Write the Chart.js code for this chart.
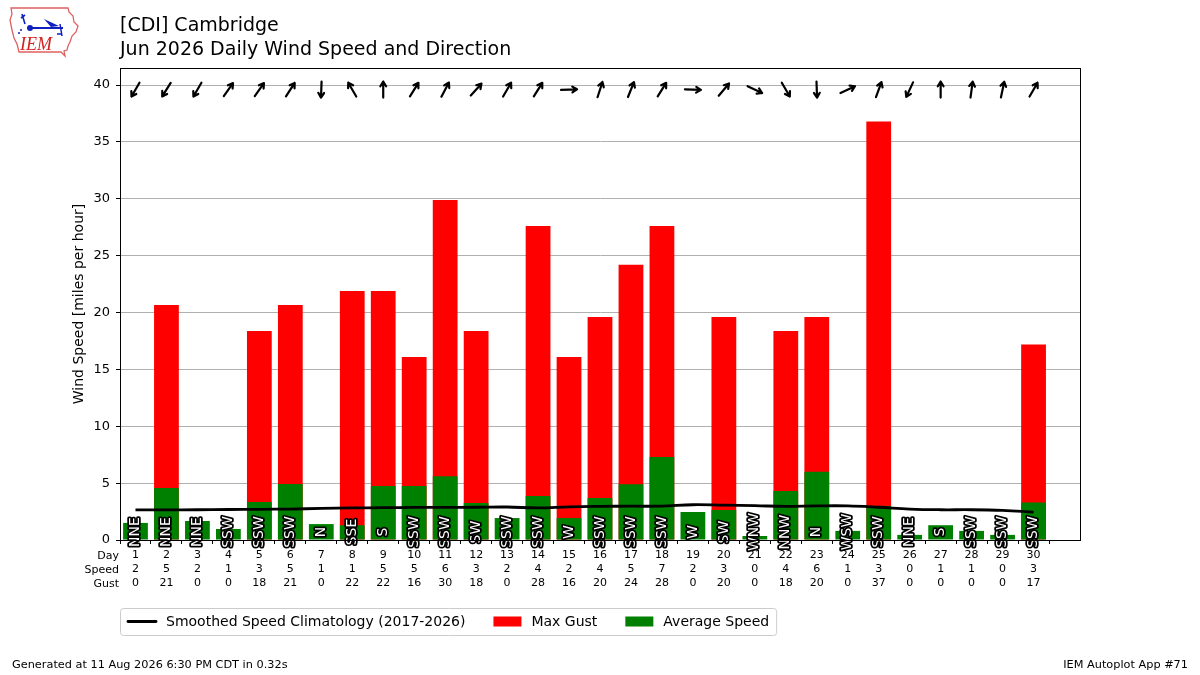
<!DOCTYPE html>
<html>
<head>
<meta charset="utf-8">
<title>[CDI] Cambridge - Jun 2026 Daily Wind</title>
<script src="https://cdn.jsdelivr.net/npm/chart.js@4.4.1/dist/chart.umd.min.js"></script>
<style>
	html, body { margin: 0; padding: 0; background: #fff; }
	#wrap { position: relative; width: 1200px; height: 675px; font-family: "DejaVu Sans", sans-serif; overflow: hidden; }
	#c { position: absolute; left: 0; top: 0; }
	.txt { position: absolute; color: #000; white-space: nowrap; line-height: 1; }
	#logo { position: absolute; left: 6px; top: 4px; }
</style>
</head>
<body>
<div id="wrap">
	<canvas id="c" width="1200" height="675"></canvas>
	<svg id="logo" width="76" height="56" viewBox="0 0 76 56">
		<path d="M5 4 L62 4 L63 8 L67 12 L68 18 L72 22 L70 28 L66 32 L64 38 L62 42 L61 46 L58 47 L59 52 L55 48 L13 48 L11 40 L8 34 L6 26 L4 16 L6 10 Z" fill="none" stroke="#e06060" stroke-width="1.3"/>
		<line x1="22" y1="24" x2="57" y2="24" stroke="#1020c0" stroke-width="2"/>
		<circle cx="24" cy="24" r="3" fill="#1020c0"/>
		<path d="M16 10 L19 20 M15 14 L19 11" stroke="#1020c0" stroke-width="1.6" fill="none"/>
		<path d="M38 15 L53 22 L45 23 Z" fill="#1020c0"/>
		<path d="M54 20 L56 32 M51 30 L56 30" stroke="#1020c0" stroke-width="1.5" fill="none"/>
		<circle cx="15" cy="26" r="1" fill="#1020c0"/><circle cx="13" cy="29" r="1" fill="#1020c0"/>
		<text x="14" y="46" font-family="'Liberation Serif', serif" font-style="italic" font-size="18" fill="#d42020">IEM</text>
	</svg>
	<div class="txt" style="left:120px;top:15px;font-size:19px;">[CDI] Cambridge</div>
	<div class="txt" style="left:120px;top:39px;font-size:19px;">Jun 2026 Daily Wind Speed and Direction</div>
	<div class="txt" style="left:12px;top:659px;font-size:11.3px;">Generated at 11 Aug 2026 6:30 PM CDT in 0.32s</div>
	<div class="txt" style="right:12px;top:659px;font-size:11.3px;">IEM Autoplot App #71</div>
</div>
<script>
'use strict';

// June 2026, Cambridge (CDI)
var days = [1,2,3,4,5,6,7,8,9,10,11,12,13,14,15,16,17,18,19,20,21,22,23,24,25,26,27,28,29,30];
var avgSpeed = [1.5,4.57,1.67,0.97,3.34,4.92,1.4,1.3,4.75,4.75,5.6,3.25,1.93,3.87,1.93,3.7,4.9,7.3,2.46,2.64,0.35,4.3,6.0,0.8,3.0,0.45,1.3,0.8,0.45,3.3];
var maxGust = [0,20.66,0,0,18.37,20.66,0,21.9,21.9,16.1,29.9,18.37,0,27.6,16.1,19.6,24.2,27.6,0,19.6,0,18.37,19.6,0,36.8,0,0,0,0,17.2];
var climo = [2.65,2.65,2.66,2.68,2.7,2.72,2.78,2.82,2.84,2.86,2.87,2.88,2.9,2.82,2.92,2.96,2.97,2.98,3.1,3.06,3.02,2.96,3.0,3.0,2.88,2.72,2.66,2.66,2.6,2.45];
var dirText = ['NNE','NNE','NNE','SSW','SSW','SSW','N','SSE','S','SSW','SSW','SW','SSW','SSW','W','SSW','SSW','SSW','W','SW','WNW','NNW','N','WSW','SSW','NNE','S','SSW','SSW','SSW'];
var dirDeg = [30,32,30,215,215,213,2,150,180,212,208,222,210,212,268,198,202,212,272,220,295,330,358,245,200,25,180,188,192,210];
var yTicks = [0,5,10,15,20,25,30,35,40];
var rowNames = ['Day','Speed','Gust'];

var FONT = '"DejaVu Sans", sans-serif';
var X_TICK_LEN = 4, X_PAD = 4, X_LINE_H = 14;

var overlay = {
	id: 'overlay',
	afterDatasetsDraw: function(chart) {
		var ctx = chart.ctx, xs = chart.scales.x, ys = chart.scales.y;
		// direction text inside the bars
		ctx.save();
		ctx.font = '14px ' + FONT;
		ctx.textAlign = 'center';
		ctx.textBaseline = 'middle';
		ctx.lineJoin = 'round';
		dirText.forEach(function(t, i) {
			var x = xs.getPixelForValue(i), y = ys.getPixelForValue(0.7);
			ctx.save();
			ctx.translate(x, y);
			ctx.rotate(-Math.PI / 2);
			ctx.strokeStyle = '#000';
			ctx.lineWidth = 3.5;
			ctx.strokeText(t, 0, 0);
			ctx.fillStyle = '#fff';
			ctx.fillText(t, 0, 0);
			ctx.restore();
		});
		ctx.restore();
	},
	afterDraw: function(chart) {
		var ctx = chart.ctx, a = chart.chartArea, xs = chart.scales.x, ys = chart.scales.y;
		ctx.save();
		// frame
		ctx.strokeStyle = '#000';
		ctx.lineWidth = 1;
		ctx.strokeRect(a.left + 0.5, a.top + 0.5, a.right - a.left, a.bottom - a.top);

		// arrows pointing where the wind blows to
		ctx.lineWidth = 2.2;
		ctx.lineCap = 'round';
		ctx.lineJoin = 'round';
		dirDeg.forEach(function(d, i) {
			var cx = xs.getPixelForValue(i), cy = ys.getPixelForValue(39.6);
			var b = (d + 180) * Math.PI / 180;
			var ux = Math.sin(b), uy = -Math.cos(b);
			var L = 8;
			var tx = cx + ux * L, ty = cy + uy * L;
			ctx.beginPath();
			ctx.moveTo(cx - ux * L, cy - uy * L);
			ctx.lineTo(tx, ty);
			var h = 5.5, s = 0.55;
			ctx.moveTo(tx - h * (ux * Math.cos(s) - uy * Math.sin(s)), ty - h * (uy * Math.cos(s) + ux * Math.sin(s)));
			ctx.lineTo(tx, ty);
			ctx.lineTo(tx - h * (ux * Math.cos(-s) - uy * Math.sin(-s)), ty - h * (uy * Math.cos(-s) + ux * Math.sin(-s)));
			ctx.strokeStyle = '#000';
			ctx.stroke();
		});

		// row names for the table under the axis
		ctx.font = '11px ' + FONT;
		ctx.fillStyle = '#000';
		ctx.textAlign = 'right';
		ctx.textBaseline = 'middle';
		rowNames.forEach(function(n, i) {
			ctx.fillText(n, a.left - 1, a.bottom + X_TICK_LEN + X_PAD + X_LINE_H * (i + 0.5) + 1);
		});

		// legend
		var ds = chart.data.datasets;
		ctx.font = '14px ' + FONT;
		var lx = a.left, ly = a.bottom + 68, lh = 27, handle = 28;
		var x = lx + 8, widths = ds.map(function(d) { return ctx.measureText(d.label).width; });
		var total = 8;
		widths.forEach(function(w, i) { total += handle + 10 + w + (i < widths.length - 1 ? 28 : 7); });
		ctx.strokeStyle = '#cccccc';
		ctx.lineWidth = 1;
		ctx.beginPath();
		if (ctx.roundRect) ctx.roundRect(lx + 0.5, ly + 0.5, total, lh, 3); else ctx.rect(lx + 0.5, ly + 0.5, total, lh);
		ctx.stroke();
		var my = ly + lh / 2;
		ctx.textAlign = 'left';
		ds.forEach(function(d, i) {
			if (d.type === 'line') {
				ctx.strokeStyle = d.borderColor;
				ctx.lineWidth = d.borderWidth;
				ctx.beginPath();
				ctx.moveTo(x, my);
				ctx.lineTo(x + handle, my);
				ctx.stroke();
			} else {
				ctx.fillStyle = d.backgroundColor;
				ctx.fillRect(x, my - 5, handle, 10);
			}
			ctx.fillStyle = '#000';
			ctx.fillText(d.label, x + handle + 10, my + 1);
			x += handle + 10 + widths[i] + 28;
		});
		ctx.restore();
	}
};

var labels = days.map(String).concat(['']);

new Chart(document.getElementById('c').getContext('2d'), {
	data: {
		labels: labels,
		datasets: [
			{
				type: 'line',
				label: 'Smoothed Speed Climatology (2017-2026)',
				data: climo,
				borderColor: '#000000',
				borderWidth: 2.8,
				pointRadius: 0,
				tension: 0.4,
				order: 0
			},
			{
				type: 'bar',
				label: 'Max Gust',
				data: maxGust,
				backgroundColor: '#ff0000',
				barPercentage: 0.8,
				categoryPercentage: 1,
				order: 2
			},
			{
				type: 'bar',
				label: 'Average Speed',
				data: avgSpeed,
				backgroundColor: '#008000',
				barPercentage: 0.8,
				categoryPercentage: 1,
				order: 1
			}
		]
	},
	options: {
		responsive: false,
		animation: false,
		events: [],
		layout: { padding: { top: 68, right: 120, left: 0, bottom: 0 } },
		plugins: {
			legend: { display: false },
			tooltip: { enabled: false },
			title: { display: false }
		},
		scales: {
			x: {
				stacked: true,
				offset: true,
				afterBuildTicks: function(axis) { axis.ticks = axis.ticks.filter(function(t) { return t.value < days.length; }); },
				afterFit: function(axis) { axis.height = 135; },
				grid: { display: true, drawOnChartArea: false, tickColor: '#000', tickLength: X_TICK_LEN, tickWidth: 1 },
				border: { color: '#000' },
				ticks: {
					autoSkip: false,
					maxRotation: 0,
					padding: X_PAD,
					color: '#000',
					font: { family: FONT, size: 11, lineHeight: X_LINE_H / 11 },
					callback: function(v, i) {
						if (i >= days.length) return '';
						return [String(days[i]), String(Math.round(avgSpeed[i])), String(Math.round(maxGust[i]))];
					}
				}
			},
			y: {
				stacked: false,
				min: 0,
				max: 41.5,
				afterBuildTicks: function(axis) { axis.ticks = yTicks.map(function(v) { return { value: v }; }); },
				afterFit: function(axis) { axis.width = 120; },
				grid: { color: '#b0b0b0', tickColor: '#000', tickLength: 4, lineWidth: 1 },
				border: { color: '#000' },
				ticks: { color: '#000', padding: 6, font: { family: FONT, size: 13 } },
				title: {
					display: true,
					text: 'Wind Speed [miles per hour]',
					color: '#000',
					font: { family: FONT, size: 14 },
					padding: { top: 71, bottom: 0 }
				}
			}
		}
	},
	plugins: [overlay]
});
</script>
</body>
</html>
